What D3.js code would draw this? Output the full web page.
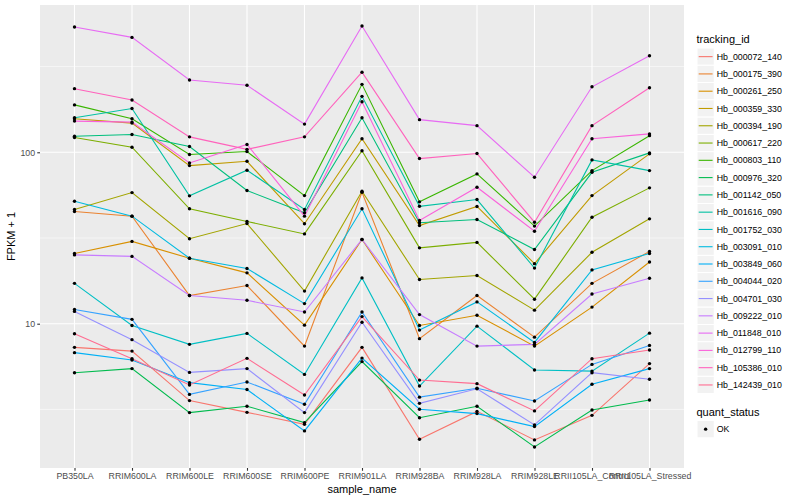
<!DOCTYPE html>
<html>
<head>
<meta charset="utf-8">
<script src="https://cdn.jsdelivr.net/npm/d3@7"></script>
<style>
  body { margin: 0; background: #fff; }
  text { font-family: "Liberation Sans", Arial, sans-serif; }
</style>
</head>
<body>
<script>
//sample names on the x axis
var samples = ["PB350LA", "RRIM600LA", "RRIM600LE", "RRIM600SE", "RRIM600PE", "RRIM901LA",
    "RRIM928BA", "RRIM928LA", "RRIM928LE", "RRII105LA_Control", "RRII105LA_Stressed"];

//FPKM + 1 values, one array per transcript
var hb_000072_140 = [7.28, 6.92, 3.56, 3.04, 2.59, 7.28, 2.12, 3.08, 2.10, 2.92, 5.85];
var hb_000175_390 = [45.1, 42.4, 14.6, 16.7, 7.40, 58.5, 8.18, 14.6, 8.35, 17.2, 26.4];
var hb_000261_250 = [25.7, 30.2, 24.1, 19.8, 9.81, 31.0, 9.77, 11.2, 7.40, 12.5, 22.9];
var hb_000359_330 = [157, 148, 83.6, 88.6, 38.3, 120, 37.4, 48.3, 22.4, 55.9, 97.9];
var hb_000394_190 = [46.4, 58.2, 31.3, 38.4, 15.5, 59.3, 18.1, 19.1, 12.0, 26.1, 40.9];
var hb_000617_220 = [122, 107, 46.8, 39.5, 33.4, 102, 27.7, 29.8, 13.9, 41.8, 62.0];
var hb_000803_110 = [189, 157, 97, 101, 55.9, 249, 51.4, 74.8, 37.1, 78.2, 125];
var hb_000976_320 = [5.18, 5.47, 3.03, 3.30, 2.65, 6.01, 2.83, 3.30, 1.91, 3.14, 3.59];
var hb_001142_050 = [124, 127, 108, 59.8, 44.4, 159, 38.8, 40.5, 27.1, 76.4, 99.2];
var hb_001616_090 = [159, 180, 55.7, 78.6, 46.4, 212, 48.4, 53.0, 21.1, 90.3, 78.2];
var hb_001752_030 = [17.2, 9.77, 7.58, 8.78, 5.06, 18.5, 4.33, 9.68, 5.37, 5.29, 8.81];
var hb_003091_010 = [51.8, 42.4, 24.1, 21.0, 13.1, 46.8, 9.18, 13.4, 7.78, 20.6, 25.7];
var hb_003849_060 = [6.78, 6.14, 4.53, 4.13, 2.37, 6.30, 3.17, 2.99, 2.51, 4.43, 5.47];
var hb_004044_020 = [12.1, 10.6, 3.87, 4.57, 3.39, 11.7, 3.73, 4.20, 3.54, 5.79, 7.47];
var hb_004701_030 = [11.8, 8.07, 5.20, 5.47, 3.03, 10.2, 3.43, 4.17, 2.57, 5.18, 4.74];
var hb_009222_010 = [25.2, 24.7, 14.6, 13.7, 11.7, 31.0, 11.3, 7.40, 7.58, 14.9, 18.4];
var hb_011848_010 = [538, 468, 264, 246, 146, 545, 155, 143, 71.5, 241, 366];
var hb_012799_110 = [152, 150, 86.7, 111, 42.4, 197, 40.0, 62.5, 34.6, 120, 128];
var hb_105386_010 = [235, 202, 123, 104, 123, 293, 91.9, 98.3, 39.1, 143, 238];
var hb_142439_010 = [8.74, 6.25, 4.39, 6.28, 3.84, 11.0, 4.69, 4.47, 3.10, 6.25, 7.02];

//legend labels in legend order
var trackingIds = ["Hb_000072_140", "Hb_000175_390", "Hb_000261_250", "Hb_000359_330", "Hb_000394_190",
    "Hb_000617_220", "Hb_000803_110", "Hb_000976_320", "Hb_001142_050", "Hb_001616_090",
    "Hb_001752_030", "Hb_003091_010", "Hb_003849_060", "Hb_004044_020", "Hb_004701_030",
    "Hb_009222_010", "Hb_011848_010", "Hb_012799_110", "Hb_105386_010", "Hb_142439_010"];

//y axis tick values
var yTicks = [10, 100];
var yMinor = [Math.pow(10, 0.5), Math.pow(10, 1.5), Math.pow(10, 2.5)];

//default ggplot hue palette for 20 levels
var palette = ["#F8766D", "#EA8331", "#D89000", "#C09B00", "#A3A500", "#7CAE00", "#39B600",
    "#00BB4E", "#00BF7D", "#00C1A3", "#00BFC4", "#00BAE0", "#00B0F6", "#35A2FF", "#9590FF",
    "#C77CFF", "#E76BF3", "#FA62DB", "#FF62BC", "#FF6C91"];

var values = [hb_000072_140, hb_000175_390, hb_000261_250, hb_000359_330, hb_000394_190,
    hb_000617_220, hb_000803_110, hb_000976_320, hb_001142_050, hb_001616_090,
    hb_001752_030, hb_003091_010, hb_003849_060, hb_004044_020, hb_004701_030,
    hb_009222_010, hb_011848_010, hb_012799_110, hb_105386_010, hb_142439_010];

var series = trackingIds.map(function(id, i){
    return {id: id, values: values[i]};
});

var w = 800, h = 500;
var panel = {left: 40, right: 684, top: 5, bottom: 468};

var svg = d3.select("body")
    .append("svg")
    .attr("width", w)
    .attr("height", h);

//log scale with 5% expansion like ggplot
var all = d3.merge(values);
var lo = Math.log10(d3.min(all)), hi = Math.log10(d3.max(all));
var pad = (hi - lo) * 0.05;
var y = d3.scaleLog()
    .domain([Math.pow(10, lo - pad), Math.pow(10, hi + pad)])
    .range([panel.bottom, panel.top]);

var x = d3.scalePoint()
    .domain(samples)
    .range([panel.left, panel.right])
    .padding(0.6);

var color = d3.scaleOrdinal()
    .domain(trackingIds)
    .range(palette);

//panel background
svg.append("rect")
    .attr("x", panel.left)
    .attr("y", panel.top)
    .attr("width", panel.right - panel.left)
    .attr("height", panel.bottom - panel.top)
    .style("fill", "#EBEBEB");

//grid lines
svg.selectAll(".minor")
    .data(yMinor)
    .enter()
    .append("line")
    .attr("x1", panel.left).attr("x2", panel.right)
    .attr("y1", function(d){ return y(d); })
    .attr("y2", function(d){ return y(d); })
    .style("stroke", "#fff")
    .style("stroke-width", 0.55);

svg.selectAll(".majorY")
    .data(yTicks)
    .enter()
    .append("line")
    .attr("x1", panel.left).attr("x2", panel.right)
    .attr("y1", function(d){ return y(d); })
    .attr("y2", function(d){ return y(d); })
    .style("stroke", "#fff")
    .style("stroke-width", 1.1);

svg.selectAll(".majorX")
    .data(samples)
    .enter()
    .append("line")
    .attr("y1", panel.top).attr("y2", panel.bottom)
    .attr("x1", function(d){ return x(d); })
    .attr("x2", function(d){ return x(d); })
    .style("stroke", "#fff")
    .style("stroke-width", 1.1);

//lines
var line = d3.line()
    .x(function(d, i){ return x(samples[i]); })
    .y(function(d){ return y(d); });

svg.selectAll(".series")
    .data(series)
    .enter()
    .append("path")
    .attr("d", function(d){ return line(d.values); })
    .style("fill", "none")
    .style("stroke", function(d){ return color(d.id); })
    .style("stroke-width", 1.1);

//points
series.forEach(function(s){
    svg.selectAll(null)
        .data(s.values)
        .enter()
        .append("circle")
        .attr("cx", function(d, i){ return x(samples[i]); })
        .attr("cy", function(d){ return y(d); })
        .attr("r", 1.7)
        .style("fill", "#000");
});

//axes
var yAxis = svg.append("g")
    .attr("transform", "translate(" + panel.left + ",0)")
    .call(d3.axisLeft(y).tickValues(yTicks).tickFormat(d3.format("d")).tickSize(2.75).tickPadding(2.2));

var xAxis = svg.append("g")
    .attr("transform", "translate(0," + panel.bottom + ")")
    .call(d3.axisBottom(x).tickSize(2.75).tickPadding(2.2));

[yAxis, xAxis].forEach(function(a){
    a.select(".domain").remove();
    a.selectAll(".tick line").style("stroke", "#333").style("stroke-width", 1.1);
    a.selectAll(".tick text")
        .style("fill", "#4D4D4D")
        .style("font-size", "8.8px")
        .style("font-family", "'Liberation Sans', Arial, sans-serif");
});

//axis titles
svg.append("text")
    .attr("x", (panel.left + panel.right) / 2)
    .attr("y", 493)
    .attr("text-anchor", "middle")
    .style("font-size", "11px")
    .text("sample_name");

svg.append("text")
    .attr("transform", "translate(15," + ((panel.top + panel.bottom) / 2) + ") rotate(-90)")
    .attr("text-anchor", "middle")
    .style("font-size", "11px")
    .text("FPKM + 1");

//legend for tracking_id
var legX = 697, keyH = 17.28, keyTop = 48;

svg.append("text")
    .attr("x", legX - 0.5)
    .attr("y", 43)
    .style("font-size", "11px")
    .text("tracking_id");

var keys = svg.selectAll(".key")
    .data(trackingIds)
    .enter()
    .append("g")
    .attr("transform", function(d, i){ return "translate(" + legX + "," + (keyTop + i * keyH) + ")"; });

keys.append("rect")
    .attr("width", keyH)
    .attr("height", keyH)
    .style("fill", "#F2F2F2")
    .style("stroke", "#fff")
    .style("stroke-width", 1);

keys.append("line")
    .attr("x1", 1.7).attr("x2", keyH - 1.7)
    .attr("y1", keyH / 2).attr("y2", keyH / 2)
    .style("stroke", function(d){ return color(d); })
    .style("stroke-width", 1.1);

keys.append("text")
    .attr("x", keyH + 2.5)
    .attr("y", keyH / 2)
    .attr("dy", "0.35em")
    .style("font-size", "8.8px")
    .text(function(d){ return d; });

//legend for quant_status
svg.append("text")
    .attr("x", legX - 0.5)
    .attr("y", 415.5)
    .style("font-size", "11px")
    .text("quant_status");

var ok = svg.append("g")
    .attr("transform", "translate(" + legX + ",420.5)");

ok.append("rect")
    .attr("width", keyH)
    .attr("height", keyH)
    .style("fill", "#F2F2F2")
    .style("stroke", "#fff");

ok.append("circle")
    .attr("cx", keyH / 2)
    .attr("cy", keyH / 2)
    .attr("r", 1.7)
    .style("fill", "#000");

ok.append("text")
    .attr("x", keyH + 2.5)
    .attr("y", keyH / 2)
    .attr("dy", "0.35em")
    .style("font-size", "8.8px")
    .text("OK");
</script>
</body>
</html>
